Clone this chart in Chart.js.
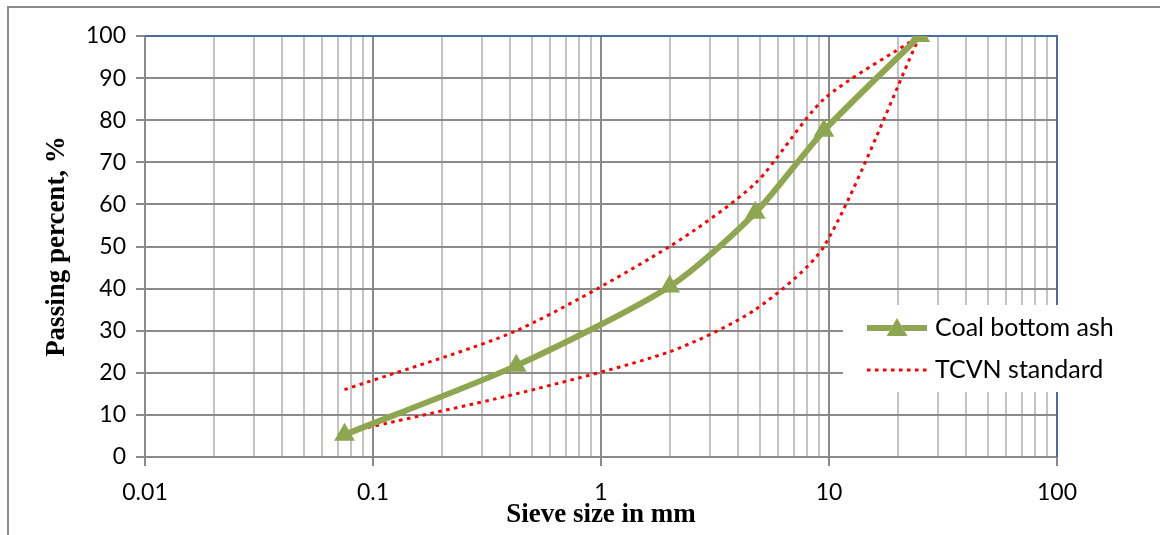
<!DOCTYPE html>
<html>
<head>
<meta charset="utf-8">
<script src="https://cdn.jsdelivr.net/npm/chart.js"></script>
<style>
  body { margin: 0; background: #fff; }
  #wrap { width: 1160px; height: 535px; }
</style>
</head>
<body>
<div id="wrap"><canvas id="myChart" width="1160" height="535"></canvas></div>
<script>
// sieve sizes (mm) and passing percent
const sieveSizes = [0.075, 0.425, 2, 4.75, 9.5, 25];
const coalBottomAsh = [5.3, 21.7, 40.5, 58, 77.5, 100];
const tcvnUpper = [16, 30, 50, 65, 85, 100];
const tcvnLower = [5.8, 15, 25, 35, 50, 100];

// log axis: decades carry a label, 2..9 multiples are only grid lines
const xDecades = [0.01, 0.1, 1, 10, 100];
const xTickLabels = ["0.01", "0.1", "1", "10", "100"];
const minorSteps = [2, 3, 4, 5, 6, 7, 8, 9];
const yTicks = [0, 10, 20, 30, 40, 50, 60, 70, 80, 90, 100];

const green = "#8ea64f";
const red = "#ff0000";

function toPoints(values) {
  return sieveSizes.map((x, i) => ({ x: x, y: values[i] }));
}

// grey frame of the chart object + blue top/right edge of the plot
const framePlugin = {
  id: "frame",
  beforeDraw(chart) {
    const ctx = chart.ctx;
    ctx.save();
    ctx.strokeStyle = "#8c8c8c";
    ctx.lineWidth = 2;
    ctx.strokeRect(8, 7, 1300, 700);
    ctx.restore();
  },
  beforeDatasetsDraw(chart) {
    const a = chart.chartArea;
    const ctx = chart.ctx;
    ctx.save();
    ctx.strokeStyle = "#4a6aa5";
    ctx.lineWidth = 2;
    ctx.beginPath();
    ctx.moveTo(a.left, a.top);
    ctx.lineTo(a.right, a.top);
    ctx.lineTo(a.right, a.bottom);
    ctx.stroke();
    ctx.restore();
  },
};

// legend box sitting inside the plot, like the Excel one
const insideLegend = {
  id: "insideLegend",
  afterDatasetsDraw(chart) {
    const ctx = chart.ctx;
    const ds = chart.data.datasets;
    ctx.save();
    ctx.fillStyle = "#fff";
    ctx.fillRect(843, 305, 290, 87);

    var rows = [
      { set: ds[0], y: 328 },
      { set: ds[1], y: 370 },
    ];
    rows.forEach(function (r) {
      ctx.strokeStyle = r.set.borderColor;
      ctx.lineWidth = r.set.borderWidth;
      ctx.setLineDash(r.set.borderDash || []);
      ctx.beginPath();
      ctx.moveTo(867, r.y);
      ctx.lineTo(927, r.y);
      ctx.stroke();
      ctx.setLineDash([]);
      if (r.set.pointRadius > 0) {
        Chart.helpers.drawPoint(ctx, {
          pointStyle: "triangle",
          radius: r.set.pointRadius,
          borderWidth: 0,
          rotation: 0,
        }, 897, r.y + 2);
        ctx.fillStyle = r.set.pointBackgroundColor;
        ctx.fill();
      }
      ctx.fillStyle = "#000";
      ctx.font = "25px Lato";
      ctx.textBaseline = "middle";
      ctx.fillText(r.set.label, 935, r.y);
    });
    ctx.restore();
  },
};

const ctx = document.getElementById("myChart").getContext("2d");
const myChart = new Chart(ctx, {
  type: "line",
  data: {
    datasets: [
      {
        label: "Coal bottom ash",
        data: toPoints(coalBottomAsh),
        borderColor: green,
        backgroundColor: green,
        borderWidth: 6,
        pointStyle: "triangle",
        pointRadius: 12,
        pointBackgroundColor: green,
        pointBorderWidth: 0,
        tension: 0.25,
      },
      {
        label: "TCVN standard",
        data: toPoints(tcvnUpper),
        borderColor: red,
        borderWidth: 3,
        borderDash: [3.5, 4.5],
        pointRadius: 0,
        tension: 0.25,
      },
      {
        label: "TCVN standard (lower)",
        data: toPoints(tcvnLower),
        borderColor: red,
        borderWidth: 3,
        borderDash: [3.5, 4.5],
        pointRadius: 0,
        tension: 0.25,
      },
    ],
  },
  options: {
    responsive: false,
    animation: false,
    layout: { padding: { left: 0, right: 103, top: 36, bottom: 0 } },
    plugins: {
      legend: { display: false },
      tooltip: { enabled: false },
    },
    scales: {
      x: {
        type: "logarithmic",
        min: 0.01,
        max: 100,
        afterBuildTicks(scale) {
          var ticks = [];
          xDecades.forEach(function (d, i) {
            ticks.push({ value: d, major: true, label: xTickLabels[i] });
            if (i < xDecades.length - 1) {
              minorSteps.forEach(function (m) {
                ticks.push({ value: d * m, major: false, label: "" });
              });
            }
          });
          scale.ticks = ticks;
        },
        afterFit(scale) {
          scale.height = 78;
        },
        ticks: {
          autoSkip: false,
          maxRotation: 0,
          padding: 13,
          color: "#000",
          font: { family: "Lato", size: 23 },
          callback: function (value, index, ticks) {
            return ticks[index].label;
          },
        },
        grid: {
          color: (c) => (c.tick && c.tick.major ? "#8a8a8a" : "#c4c4c4"),
          lineWidth: 2,
          tickLength: 9,
          tickColor: (c) => (c.tick && c.tick.major ? "#8a8a8a" : "rgba(0,0,0,0)"),
        },
        border: { color: "#8a8a8a", width: 2 },
        title: {
          display: true,
          text: "Sieve size in mm",
          color: "#000",
          font: { family: "Liberation Serif", size: 27, weight: "bold" },
          padding: { top: 0, bottom: 4 },
        },
      },
      y: {
        min: 0,
        max: 100,
        afterBuildTicks(scale) {
          scale.ticks = yTicks.map((v) => ({ value: v }));
        },
        afterFit(scale) {
          scale.width = 145;
        },
        ticks: {
          padding: 10,
          color: "#000",
          font: { family: "Lato", size: 23 },
        },
        grid: {
          color: "#8a8a8a",
          lineWidth: 2,
          tickLength: 9,
        },
        border: { color: "#8a8a8a", width: 2 },
        title: {
          display: true,
          text: "Passing percent, %",
          color: "#000",
          font: { family: "Liberation Serif", size: 27, weight: "bold" },
          padding: { top: 41, bottom: 0 },
        },
      },
    },
  },
  plugins: [framePlugin, insideLegend],
});
</script>
</body>
</html>
